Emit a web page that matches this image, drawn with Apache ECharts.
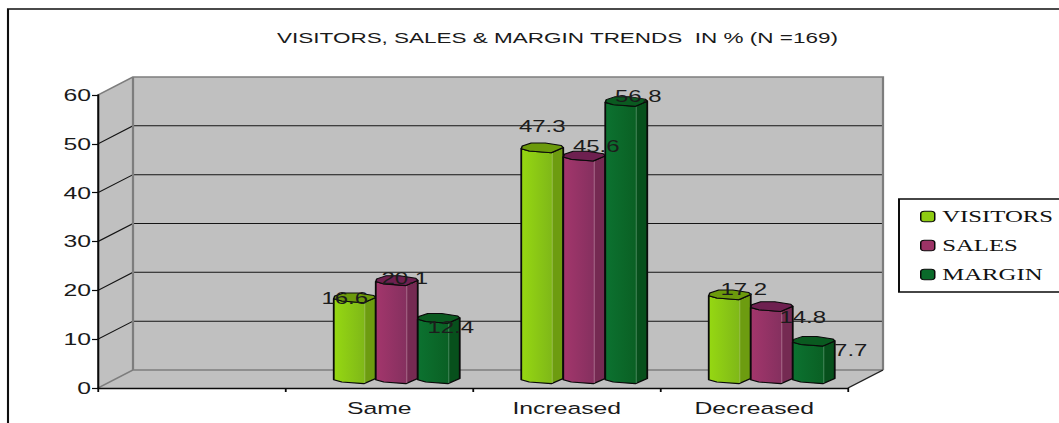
<!DOCTYPE html>
<html>
<head>
<meta charset="utf-8">
<style>
  html, body { margin: 0; padding: 0; background: #fff; overflow: hidden; }
  /* The drawing is laid out narrow and widened on the x axis, which gives the wide lettering. */
  #chart { width: 706px; height: 423px; transform: scaleX(1.5); transform-origin: 0 0; }
</style>
<script src="https://cdn.jsdelivr.net/npm/echarts@6/dist/echarts.min.js"></script>
</head>
<body>
<div id="chart"></div>
<script>
const titleText = 'VISITORS, SALES & MARGIN TRENDS  IN % (N =169)';
const categories = ['', 'Same', 'Increased', 'Decreased'];
const visitors = [null, 16.6, 47.3, 17.2];
const sales = [null, 20.1, 45.6, 14.8];
const margin = [null, 12.4, 56.8, 7.7];
const yTicks = [10, 20, 30, 40, 50];

const S = 1.5;                 // horizontal widening of the page element
const X = v => v / S;          // screen px -> layout px
const DEPTH_X = X(35), DEPTH_Y = -18;
const BAR_W = X(42);
const FONT = 'Liberation Sans';

const looks = [
  { name: 'VISITORS', values: visitors, swatch: '#8ecb12',
    stops: ['#96d812', '#7fb818', '#6d9c10'], cap: '#6c9a0c', seam: '#a5c860' },
  { name: 'SALES', values: sales, swatch: '#9c3366',
    stops: ['#a3366c', '#85305f', '#752a52'], cap: '#6e2050', seam: '#b8809c' },
  { name: 'MARGIN', values: margin, swatch: '#0a6a2a',
    stops: ['#0c7230', '#0a6024', '#07501c'], cap: '#0a5a20', seam: '#5c9a70' }
];

// Per-label nudge from the centre of the column top, in screen px: [dx, dy].
const labelNudge = [
  [null, [-10, 1], [0, -22], [14, -5]],
  [null, [8, -2], [12, -10], [31, 11]],
  [null, [12, 9], [12, -5], [37, 9]]
];

function renderWalls(params, api) {
  const cs = params.coordSys;
  const L = cs.x, R = cs.x + cs.width;
  const y0 = api.coord([0, 0])[1], yTop = api.coord([0, 60])[1];
  const grey = { stroke: '#7d7d7d', lineWidth: 1.5, fill: null };
  const children = [
    { type: 'polygon', shape: { points: [[L, y0], [L + DEPTH_X, y0 + DEPTH_Y], [L + DEPTH_X, yTop + DEPTH_Y], [L, yTop]] },
      style: { fill: '#c0c0c0' } },
    { type: 'polygon', shape: { points: [[L, y0], [R, y0], [R + DEPTH_X, y0 + DEPTH_Y], [L + DEPTH_X, y0 + DEPTH_Y]] },
      style: { fill: '#c0c0c0' } },
    { type: 'rect', shape: { x: L + DEPTH_X, y: yTop + DEPTH_Y, width: R - L, height: y0 - yTop },
      style: { fill: '#c0c0c0' } }
  ];
  yTicks.forEach(t => {
    const y = api.coord([0, t])[1];
    children.push({ type: 'polyline', shape: { points: [[L, y], [L + DEPTH_X, y + DEPTH_Y], [R + DEPTH_X, y + DEPTH_Y]] },
      style: { stroke: '#141414', lineWidth: 1, fill: null } });
  });
  children.push(
    { type: 'polyline', shape: { points: [[L, y0], [L + DEPTH_X, y0 + DEPTH_Y], [R + DEPTH_X, y0 + DEPTH_Y]] }, style: grey },
    { type: 'polyline', shape: { points: [[L, yTop], [L + DEPTH_X, yTop + DEPTH_Y], [R + DEPTH_X, yTop + DEPTH_Y], [R + DEPTH_X, y0 + DEPTH_Y]] }, style: grey },
    { type: 'line', shape: { x1: L + DEPTH_X, y1: yTop + DEPTH_Y, x2: L + DEPTH_X, y2: y0 + DEPTH_Y }, style: grey },
    { type: 'line', shape: { x1: R, y1: y0, x2: R + DEPTH_X, y2: y0 + DEPTH_Y }, style: { stroke: '#222', lineWidth: 1 } }
  );
  return { type: 'group', children };
}

function columnRenderer(s) {
  const look = looks[s];
  return function (params, api) {
    const cat = api.value(0), val = api.value(1);
    const top = api.coord([cat, val]);
    const base = api.coord([cat, 0]);
    const cx = top[0] + DEPTH_X / 2 + (s - 1) * BAR_W;
    const x0 = cx - BAR_W / 2;
    const x1 = cx + BAR_W / 2;
    const yT = top[1] + DEPTH_Y / 2;
    const yB = base[1] + DEPTH_Y / 2;
    const u = X(1);              // one screen px across
    const frontArc = y => [[x0, y + 0.7], [x0 + 8 * u, y + 3], [x0 + 30 * u, y + 4.7], [x1, y - 0.5]];
    const body = frontArc(yT).concat(frontArc(yB).reverse());
    const cap = frontArc(yT).concat([[x1 - 2 * u, yT - 2.5], [x0 + 24 * u, yT - 5], [x0 + 10 * u, yT - 5], [x0 + 1 * u, yT - 2]]);
    const seamX = x0 + 31 * u;
    const nudge = labelNudge[s][cat];
    return {
      type: 'group',
      children: [
        { type: 'polygon', shape: { points: body },
          style: { stroke: '#0a0a0a', lineWidth: 1.2, lineJoin: 'round',
            fill: { type: 'linear', x: 0, y: 0, x2: 1, y2: 0, colorStops: [
              { offset: 0, color: look.stops[0] },
              { offset: 0.73, color: look.stops[1] },
              { offset: 0.735, color: look.stops[2] },
              { offset: 1, color: look.stops[2] }] } } },
        { type: 'line', shape: { x1: seamX, y1: yT + 5, x2: seamX, y2: yB + 4 },
          style: { stroke: look.seam, lineWidth: 0.6 } },
        { type: 'polygon', shape: { points: cap },
          style: { fill: look.cap, stroke: '#0a0a0a', lineWidth: 1, lineJoin: 'round' } },
        { type: 'text', z2: 100,
          x: cx + X(nudge[0]), y: yT + nudge[1],
          style: { text: val.toFixed(1), fill: '#1c1c1c', font: '16px "' + FONT + '"',
            textAlign: 'center', textVerticalAlign: 'middle', align: 'center', verticalAlign: 'middle' } }
      ]
    };
  };
}

const chart = echarts.init(document.getElementById('chart'), null, { renderer: 'svg' });
chart.setOption({
  animation: false,
  title: {
    text: titleText, left: X(550), top: 25, textAlign: 'center',
    textStyle: { fontFamily: FONT, fontSize: 15, fontWeight: 'normal', color: '#1a1a1a' }
  },
  legend: {
    data: looks.map(l => l.name),
    orient: 'vertical', left: X(899), top: 199,
    padding: [9, X(15), 9, X(21)],
    itemWidth: X(14), itemHeight: 10.5, itemGap: 12, selectedMode: false,
    backgroundColor: '#fff', borderColor: '#0a0a0a', borderWidth: 1.3,
    itemStyle: { borderColor: '#0a0a0a', borderWidth: 1 },
    textStyle: { fontFamily: 'Liberation Sans Narrow', fontSize: 16.5, color: '#111', padding: [0, 0, 0, 0] }
  },
  grid: { left: X(98), top: 95, width: X(750), height: 293, containLabel: false },
  xAxis: {
    type: 'category', data: categories, z: 1,
    axisLine: { show: true, lineStyle: { color: '#0a0a0a', width: 1.4 } },
    axisTick: { show: true, length: 4, lineStyle: { color: '#0a0a0a', width: 1.2 } },
    axisLabel: { color: '#1a1a1a', fontFamily: FONT, fontSize: 16.5, margin: 12, interval: 0 },
    splitLine: { show: false }
  },
  yAxis: {
    type: 'value', min: 0, max: 60, interval: 10, z: 1,
    axisLine: { show: true, lineStyle: { color: '#0a0a0a', width: 1.4 } },
    axisTick: { show: true, length: X(6), lineStyle: { color: '#0a0a0a', width: 1.2 } },
    axisLabel: { color: '#1a1a1a', fontFamily: FONT, fontSize: 16.5, margin: X(7) },
    splitLine: { show: false }
  },
  graphic: [{
    type: 'polyline', silent: true,
    shape: { points: [[X(8), 423], [X(8), 9], [X(1059), 9]] },
    style: { stroke: '#0f0f0f', lineWidth: 1.4, fill: null }
  }],
  series: [
    { type: 'custom', name: 'walls', z: 0, silent: true, data: [[0, 0]], renderItem: renderWalls, clip: false }
  ].concat(looks.map((l, s) => ({
    type: 'custom', name: l.name, z: 2, clip: false,
    itemStyle: { color: l.swatch },
    data: categories.map((_, i) => [i, l.values[i]]).filter(d => d[1] !== null),
    encode: { x: 0, y: 1 },
    renderItem: columnRenderer(s)
  })))
});
</script>
</body>
</html>
